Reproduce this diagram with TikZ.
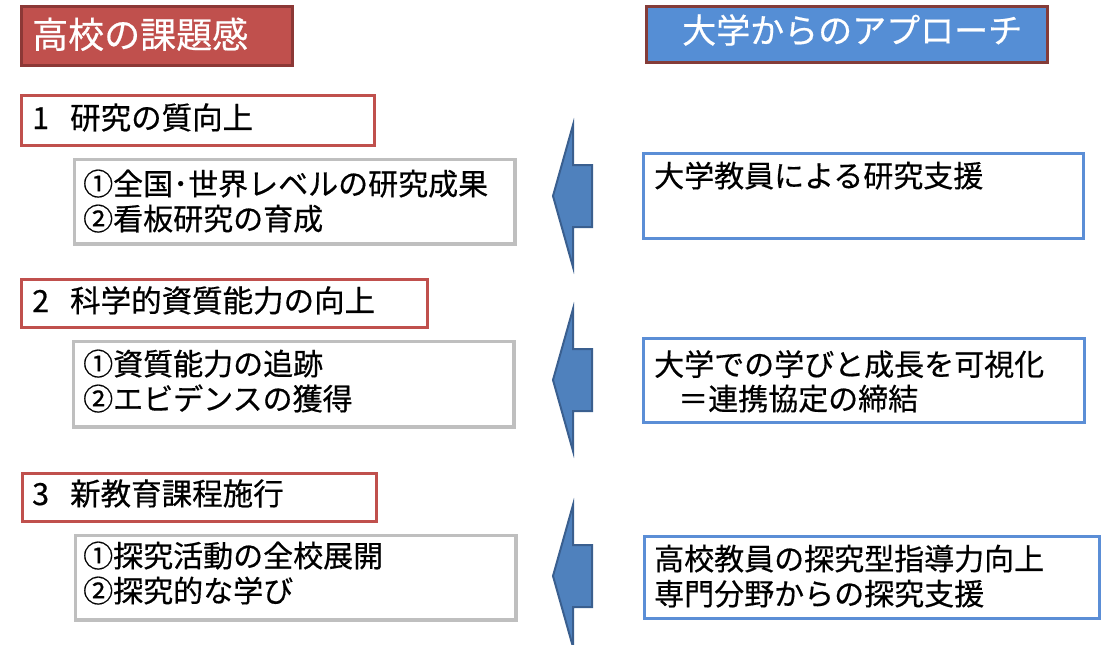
\documentclass[tikz,border=0pt]{standalone}
\usepackage{fontspec}
\setmainfont{Noto Sans CJK JP}[FakeBold=0.5]
\definecolor{titlered}{HTML}{C0504D}
\definecolor{titleredborder}{HTML}{8C3836}
\definecolor{titleblue}{HTML}{558ED5}
\definecolor{titleblueborder}{HTML}{843C39}
\definecolor{boxred}{HTML}{C0504D}
\definecolor{boxgray}{HTML}{BFBFBF}
\definecolor{boxblue}{HTML}{5B8ED6}
\definecolor{arrowfill}{HTML}{4F81BD}
\definecolor{arrowdraw}{HTML}{3A5F8F}
\begin{document}
\begin{tikzpicture}[x=1pt,y=-1pt,
  box/.style={rectangle, anchor=north west, inner sep=0pt, line width=3pt},
  redtitle/.style={box, fill=titlered, draw=titleredborder},
  bluetitle/.style={box, fill=titleblue, draw=titleblueborder, line width=3.5pt},
  headbox/.style={box, draw=boxred, fill=white},
  itembox/.style={box, draw=boxgray, line width=3.5pt, fill=white},
  supportbox/.style={box, draw=boxblue, fill=white},
  titletext/.style={anchor=base west, inner sep=0pt, text=white},
  bodytext/.style={anchor=base west, inner sep=0pt, font=\fontsize{30}{36}\selectfont},
  headtext/.style={anchor=base west, inner sep=0pt, font=\fontsize{30.5}{36}\selectfont},
  arrowshape/.style={fill=arrowfill, draw=arrowdraw, line width=2pt, line join=miter},
  pics/blockarrow/.style={code={
    \draw[arrowshape] (0,0) -- (20,-71) -- (20,-31) -- (39,-31) -- (39,31) -- (20,31) -- (20,71) -- cycle;}}
]
\useasboundingbox (0,0) rectangle (1109,645);

% titles
\node[redtitle, minimum width=271pt, minimum height=59pt] (lt) at (19.5,4.5) {};
\node[titletext, font=\fontsize{36}{40}\selectfont] (ltt) at (32,48) {高校の課題感};
\node[bluetitle, minimum width=401pt, minimum height=56pt] (rt) at (644.5,4.5) {};
\node[titletext, font=\fontsize{34}{40}\selectfont] (rtt) at (682,43) {大学からのアプローチ};

% heading boxes
\node[headbox, minimum width=353pt, minimum height=50pt] (h1) at (19.5,93.5) {};
\node[headtext] (h1t) at (32,129) {\makebox[38pt][l]{1}研究の質向上};
\node[headbox, minimum width=406pt, minimum height=48pt] (h2) at (19.5,277.5) {};
\node[headtext] (h2t) at (32,312) {\makebox[38pt][l]{2}科学的資質能力の向上};
\node[headbox, minimum width=354pt, minimum height=48pt] (h3) at (20.5,471.5) {};
\node[headtext] (h3t) at (32,505) {\makebox[38pt][l]{3}新教育課程施行};

% item boxes
\node[itembox, minimum width=440.5pt, minimum height=84.5pt] (g1) at (72.75,157.75) {};
\node[bodytext] (g1a) at (83,195) {①全国･世界レベルの研究成果};
\node[bodytext] (g1b) at (83,230) {②看板研究の育成};
\node[itembox, minimum width=440.5pt, minimum height=85.5pt] (g2) at (71.75,339.75) {};
\node[bodytext] (g2a) at (83,375) {①資質能力の追跡};
\node[bodytext] (g2b) at (83,410) {②エビデンスの獲得};
\node[itembox, minimum width=440.5pt, minimum height=84.5pt] (g3) at (73.75,533.75) {};
\node[bodytext] (g3a) at (83,567) {①探究活動の全校展開};
\node[bodytext] (g3b) at (83,602) {②探究的な学び};

% support boxes
\node[supportbox, minimum width=440pt, minimum height=85pt] (s1) at (641.5,151.5) {};
\node[bodytext] (s1a) at (654,187) {大学教員による研究支援};
\node[supportbox, minimum width=441pt, minimum height=84pt] (s2) at (641.5,336.5) {};
\node[bodytext] (s2a) at (654,375.5) {大学での学びと成長を可視化};
\node[bodytext] (s2b) at (654,410) {\hspace*{24pt}＝連携協定の締結};
\node[supportbox, minimum width=455pt, minimum height=82pt] (s3) at (642.5,534.5) {};
\node[bodytext] (s3a) at (654,570) {高校教員の探究型指導力向上};
\node[bodytext] (s3b) at (654,605) {専門分野からの探究支援};

% block arrows
\pic (a1) at (553,196) {blockarrow};
\pic (a2) at (553,380) {blockarrow};
\pic (a3) at (553,576) {blockarrow};
\end{tikzpicture}
\end{document}
